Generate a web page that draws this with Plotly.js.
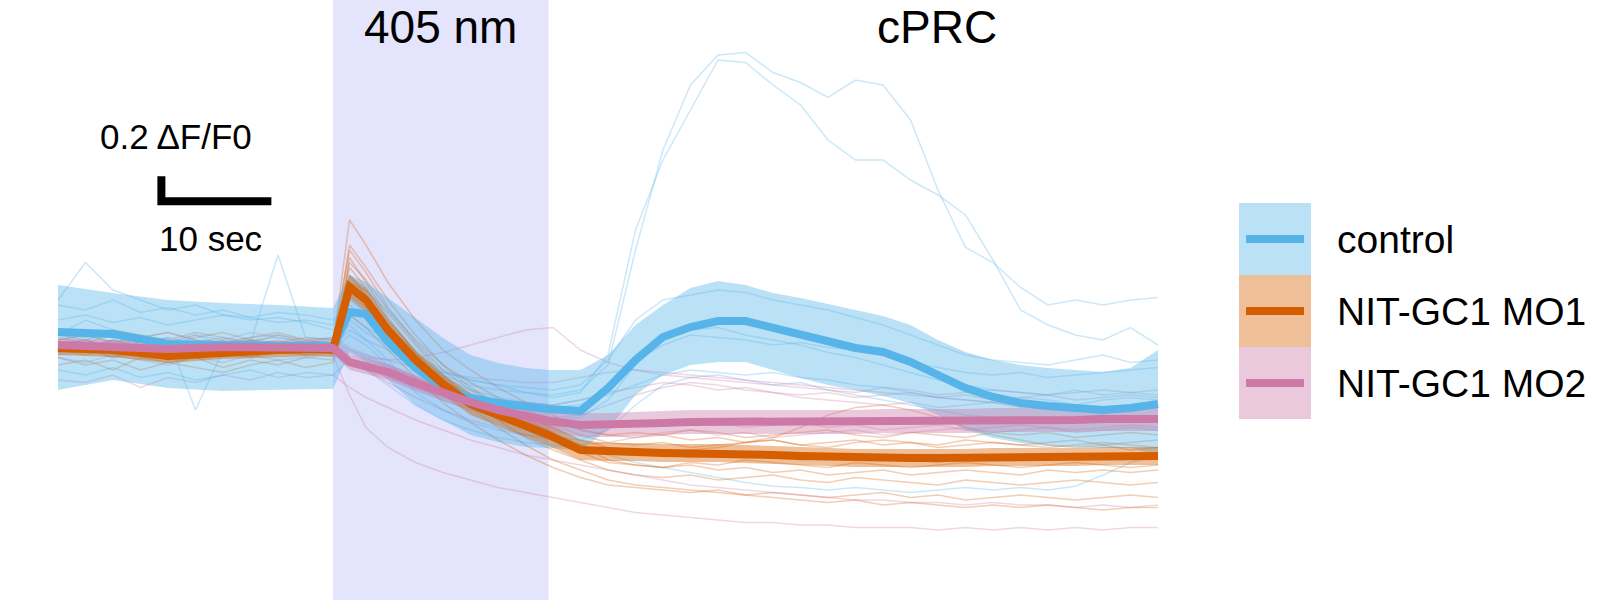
<!DOCTYPE html>
<html><head><meta charset="utf-8">
<script src="https://cdn.plot.ly/plotly-3.0.1.min.js"></script>
<style>html,body{margin:0;padding:0;background:#fff}</style>
</head><body><div id="chart" style="width:1600px;height:600px"></div>
<script>
// time (s) relative to 405 nm onset
const tMean = [-25,-20,-15,-10,-5,-1,0,1.5,3,5,7.5,10,12.5,15,17.5,19.6,22.5,25,27.5,30,32.5,35,37.5,40,42.5,45,47.5,50,52.5,55,57.5,60,62.5,65,67.5,70,72.5,75];
const tInd = [-25,-22.5,-20,-17.5,-15,-12.5,-10,-7.5,-5,-2.5,0,1.5,3,5,7.5,10,12.5,15,17.5,20,22.5,25,27.5,30,32.5,35,37.5,40,42.5,45,47.5,50,52.5,55,57.5,60,62.5,65,67.5,70,72.5,75];
const lightStart = 0, lightEnd = 19.6;

// means and SEM band edges (dF/F0)
const controlMean = [0.104,0.088,0.008,-0.008,-0.008,-0.008,-0.016,0.264,0.248,0.024,-0.184,-0.336,-0.424,-0.464,-0.496,-0.512,-0.528,-0.344,-0.12,0.064,0.144,0.192,0.192,0.136,0.072,0.016,-0.024,-0.056,-0.136,-0.24,-0.344,-0.416,-0.464,-0.488,-0.504,-0.52,-0.504,-0.472];
const controlHi = [0.48,0.416,0.36,0.336,0.32,0.296,0.296,0.56,0.504,0.376,0.216,0.056,-0.08,-0.144,-0.184,-0.2,-0.2,-0.08,0.16,0.32,0.456,0.512,0.48,0.416,0.376,0.328,0.28,0.232,0.16,0.04,-0.056,-0.12,-0.16,-0.184,-0.2,-0.216,-0.184,-0.04];
const controlLo = [-0.36,-0.28,-0.344,-0.368,-0.36,-0.352,-0.352,-0.056,-0.136,-0.28,-0.48,-0.6,-0.72,-0.776,-0.816,-0.824,-0.84,-0.68,-0.4,-0.24,-0.16,-0.136,-0.136,-0.2,-0.264,-0.32,-0.36,-0.408,-0.464,-0.56,-0.68,-0.744,-0.784,-0.808,-0.816,-0.824,-0.824,-0.88];

const mo1Mean = [-0.024,-0.04,-0.088,-0.056,-0.04,-0.032,-0.04,0.464,0.36,0.12,-0.12,-0.312,-0.472,-0.56,-0.648,-0.72,-0.84,-0.856,-0.856,-0.864,-0.864,-0.864,-0.872,-0.88,-0.888,-0.896,-0.904,-0.904,-0.904,-0.904,-0.904,-0.896,-0.896,-0.896,-0.896,-0.888,-0.888,-0.888];
const mo1Hi = [0.032,0.016,-0.032,0,0.016,0.024,0.016,0.56,0.456,0.208,-0.04,-0.232,-0.384,-0.472,-0.56,-0.632,-0.76,-0.784,-0.784,-0.792,-0.792,-0.792,-0.8,-0.808,-0.816,-0.824,-0.832,-0.832,-0.832,-0.832,-0.832,-0.824,-0.824,-0.824,-0.824,-0.816,-0.816,-0.816];
const mo1Lo = [-0.08,-0.096,-0.144,-0.112,-0.096,-0.088,-0.096,0.368,0.264,0.032,-0.208,-0.4,-0.56,-0.648,-0.736,-0.808,-0.92,-0.928,-0.928,-0.936,-0.936,-0.936,-0.944,-0.952,-0.96,-0.968,-0.976,-0.976,-0.976,-0.976,-0.976,-0.968,-0.968,-0.968,-0.968,-0.96,-0.96,-0.96];

const mo2Mean = [0,-0.008,-0.032,-0.016,-0.016,-0.016,-0.024,-0.136,-0.168,-0.216,-0.304,-0.384,-0.456,-0.52,-0.568,-0.608,-0.64,-0.64,-0.632,-0.624,-0.616,-0.616,-0.616,-0.616,-0.616,-0.616,-0.616,-0.608,-0.608,-0.608,-0.608,-0.6,-0.6,-0.6,-0.6,-0.592,-0.592,-0.592];
const mo2Hi = [0.048,0.04,0.016,0.032,0.032,0.032,0.024,-0.072,-0.104,-0.152,-0.24,-0.32,-0.392,-0.456,-0.496,-0.528,-0.544,-0.544,-0.536,-0.528,-0.52,-0.52,-0.52,-0.52,-0.52,-0.52,-0.52,-0.512,-0.512,-0.512,-0.512,-0.504,-0.504,-0.504,-0.504,-0.496,-0.496,-0.496];
const mo2Lo = [-0.048,-0.056,-0.08,-0.064,-0.064,-0.064,-0.072,-0.2,-0.232,-0.28,-0.368,-0.448,-0.52,-0.584,-0.64,-0.688,-0.736,-0.736,-0.728,-0.72,-0.712,-0.712,-0.712,-0.712,-0.712,-0.712,-0.712,-0.704,-0.704,-0.704,-0.704,-0.696,-0.696,-0.696,-0.696,-0.688,-0.688,-0.688];

// individual cells
const controlCells = [
 [0.08,0.2,0.12,0.06,0.02,0.08,0,0.04,0.06,0.02,0,0.12,0.04,-0.04,-0.16,-0.24,-0.32,-0.36,-0.38,-0.4,-0.36,-0.16,0.76,1.56,2.08,2.32,2.34,2.18,2.1,1.98,2.12,2.08,1.8,1.24,0.78,0.66,0.46,0.32,0.36,0.32,0.36,0.38],
 [0.36,0.66,0.44,0.36,0.28,0.32,0.24,0.2,0.22,0.18,0.12,0.24,0.14,0.04,-0.12,-0.22,-0.28,-0.32,-0.38,-0.42,-0.38,-0.08,0.92,1.48,1.88,2.28,2.26,2.08,1.92,1.64,1.48,1.48,1.32,1.2,1.04,0.68,0.28,0.16,0.08,0.04,0.14,0],
 [0.2,0.24,0.18,0.22,0.16,0.2,0.24,0.22,0.18,0.2,0.16,0.36,0.26,0.12,-0.08,-0.2,-0.28,-0.32,-0.34,-0.36,-0.32,-0.12,0.2,0.36,0.4,0.44,0.42,0.36,0.32,0.28,0.22,0.16,0.08,0,-0.08,-0.12,-0.14,-0.16,-0.12,-0.08,-0.14,-0.12],
 [-0.04,0,-0.08,-0.04,-0.12,-0.06,-0.02,-0.08,-0.04,-0.06,-0.04,0.08,0,-0.16,-0.32,-0.44,-0.52,-0.56,-0.58,-0.6,-0.58,-0.44,-0.16,0.04,0.12,0.14,0.08,0.04,0,-0.06,-0.1,-0.16,-0.22,-0.28,-0.32,-0.36,-0.38,-0.4,-0.36,-0.4,-0.38,-0.4],
 [-0.2,-0.24,-0.18,-0.26,-0.22,-0.28,-0.24,-0.2,-0.26,-0.22,-0.24,-0.12,-0.2,-0.32,-0.48,-0.6,-0.68,-0.74,-0.78,-0.8,-0.82,-0.88,-0.94,-0.98,-1.02,-1.06,-1.1,-1.13,-1.14,-1.16,-1.14,-1.16,-1.18,-1.16,-1.14,-1.16,-1.14,-1.16,-1.13,-1.04,-0.94,-0.88],
 [0.08,0.04,0.12,0,0.06,-0.52,-0.04,0.02,0.72,0.06,0.04,0.2,0.1,0,-0.2,-0.32,-0.4,-0.44,-0.46,-0.48,-0.44,-0.4,-0.32,-0.24,-0.2,-0.22,-0.24,-0.22,-0.26,-0.28,-0.32,-0.34,-0.38,-0.42,-0.44,-0.46,-0.42,-0.44,-0.48,-0.44,-0.42,-0.44],
 [0.32,0.28,0.36,0.26,0.3,0.24,0.28,0.22,0.26,0.24,0.2,0.32,0.22,0.08,-0.12,-0.26,-0.36,-0.42,-0.46,-0.5,-0.48,-0.36,-0.12,0,0.08,0.06,0.04,0,0.02,-0.02,-0.04,-0.08,-0.14,-0.18,-0.22,-0.24,-0.22,-0.26,-0.24,-0.22,-0.2,-0.18],
 [0,-0.06,0.04,-0.02,-0.08,0,-0.04,0.04,-0.06,-0.02,0,0.16,0.04,-0.12,-0.38,-0.52,-0.62,-0.68,-0.72,-0.74,-0.76,-0.68,-0.48,-0.32,-0.26,-0.24,-0.28,-0.32,-0.3,-0.36,-0.4,-0.44,-0.48,-0.52,-0.56,-0.58,-0.6,-0.62,-0.58,-0.56,-0.6,-0.58]
];
const mo1Cells = [
 [0.02,-0.02,0.04,-0.04,0,0.02,-0.06,0,0.04,-0.02,0,1.0,0.8,0.5,0.2,-0.04,-0.2,-0.34,-0.46,-0.56,-0.68,-0.72,-0.74,-0.72,-0.76,-0.74,-0.78,-0.76,-0.8,-0.78,-0.76,-0.8,-0.78,-0.82,-0.8,-0.78,-0.8,-0.82,-0.8,-0.78,-0.8,-0.82],
 [-0.06,-0.02,-0.1,-0.04,-0.08,-0.02,-0.06,-0.1,-0.04,-0.08,-0.06,0.8,0.62,0.36,0.08,-0.16,-0.34,-0.48,-0.6,-0.7,-0.8,-0.92,-0.96,-0.98,-0.96,-1.0,-0.98,-1.02,-1.0,-1.04,-1.02,-1.0,-1.04,-1.02,-1.0,-1.02,-1.04,-1.0,-1.02,-1.0,-1.02,-1.0],
 [-0.1,-0.16,-0.12,-0.2,-0.14,-0.1,-0.18,-0.12,-0.16,-0.1,-0.12,0.7,0.5,0.22,-0.06,-0.3,-0.5,-0.66,-0.8,-0.92,-1.0,-1.08,-1.12,-1.14,-1.16,-1.18,-1.2,-1.22,-1.24,-1.26,-1.24,-1.28,-1.26,-1.28,-1.3,-1.28,-1.3,-1.28,-1.3,-1.32,-1.3,-1.3],
 [0.04,0.08,0.02,0.06,0.1,0.04,0.02,0.06,0.1,0.04,0.02,0.56,0.4,0.16,-0.1,-0.3,-0.44,-0.56,-0.64,-0.72,-0.8,-0.86,-0.88,-0.86,-0.9,-0.88,-0.86,-0.9,-0.92,-0.9,-0.88,-0.9,-0.92,-0.94,-0.9,-0.92,-0.9,-0.88,-0.92,-0.9,-0.88,-0.9],
 [-0.02,0.02,-0.04,0,-0.06,-0.02,0.02,-0.04,0,-0.02,0,0.4,0.3,0.1,-0.12,-0.28,-0.4,-0.5,-0.58,-0.64,-0.72,-0.78,-0.8,-0.78,-0.82,-0.8,-0.78,-0.76,-0.8,-0.82,-0.78,-0.76,-0.78,-0.8,-0.76,-0.78,-0.8,-0.78,-0.76,-0.8,-0.78,-0.76],
 [0.06,0.02,0.08,0.04,0,0.06,0.1,0.04,0.02,0.06,0.04,0.76,0.58,0.3,0.02,-0.2,-0.36,-0.48,-0.58,-0.66,-0.76,-0.82,-0.84,-0.86,-0.84,-0.82,-0.78,-0.74,-0.66,-0.56,-0.5,-0.48,-0.52,-0.58,-0.66,-0.72,-0.76,-0.8,-0.82,-0.8,-0.84,-0.82],
 [-0.16,-0.12,-0.2,-0.1,-0.14,-0.18,-0.22,-0.16,-0.12,-0.18,-0.14,0.24,0.14,-0.04,-0.26,-0.46,-0.62,-0.76,-0.88,-0.98,-1.06,-1.12,-1.14,-1.16,-1.18,-1.16,-1.2,-1.18,-1.2,-1.22,-1.2,-1.18,-1.22,-1.2,-1.24,-1.22,-1.2,-1.22,-1.24,-1.22,-1.2,-1.22],
 [0,0.04,-0.02,0.06,0.02,-0.04,0,0.04,-0.02,0.02,0,0.62,0.46,0.2,-0.06,-0.26,-0.42,-0.56,-0.66,-0.76,-0.86,-0.94,-0.96,-0.98,-0.94,-0.96,-0.92,-0.94,-0.96,-0.98,-0.94,-0.96,-0.98,-0.96,-0.94,-0.96,-0.98,-0.96,-0.94,-0.96,-0.98,-0.96],
 [-0.04,-0.08,-0.02,-0.06,-0.1,-0.04,-0.08,-0.02,-0.06,-0.04,-0.02,0.66,0.52,0.28,0.04,-0.16,-0.3,-0.42,-0.52,-0.6,-0.68,-0.72,-0.7,-0.72,-0.68,-0.7,-0.74,-0.72,-0.7,-0.68,-0.72,-0.74,-0.7,-0.72,-0.74,-0.7,-0.72,-0.7,-0.74,-0.72,-0.7,-0.72],
 [0.1,0.06,0.12,0.08,0.04,0.1,0.06,0.02,0.08,0.04,0.06,0.5,0.44,0.26,0,-0.24,-0.44,-0.6,-0.74,-0.84,-0.92,-1.0,-1.04,-1.06,-1.04,-1.08,-1.06,-1.04,-1.08,-1.1,-1.06,-1.08,-1.1,-1.12,-1.08,-1.1,-1.12,-1.1,-1.08,-1.1,-1.12,-1.1]
];
const mo2Cells = [
 [0.02,-0.02,0.04,0,-0.04,0.02,0.06,0,-0.02,0.04,0,-0.06,-0.1,-0.12,-0.1,-0.06,0,0.06,0.12,0.14,-0.04,-0.14,-0.2,-0.24,-0.26,-0.28,-0.3,-0.32,-0.34,-0.36,-0.38,-0.34,-0.36,-0.4,-0.38,-0.36,-0.38,-0.4,-0.38,-0.36,-0.38,-0.36],
 [-0.08,-0.04,-0.1,-0.06,-0.12,-0.08,-0.04,-0.1,-0.06,-0.08,-0.06,-0.16,-0.2,-0.26,-0.34,-0.42,-0.48,-0.52,-0.56,-0.58,-0.56,-0.48,-0.4,-0.34,-0.3,-0.32,-0.36,-0.38,-0.42,-0.44,-0.46,-0.48,-0.46,-0.5,-0.48,-0.46,-0.5,-0.48,-0.5,-0.52,-0.48,-0.5],
 [0.04,0.08,0.02,0.06,0.1,0.04,0,0.06,0.08,0.02,0.04,-0.04,-0.1,-0.18,-0.26,-0.34,-0.4,-0.44,-0.46,-0.48,-0.44,-0.38,-0.34,-0.3,-0.32,-0.36,-0.34,-0.38,-0.4,-0.38,-0.42,-0.4,-0.38,-0.42,-0.4,-0.44,-0.42,-0.4,-0.44,-0.42,-0.4,-0.42],
 [-0.28,-0.3,-0.24,-0.34,-0.26,-0.3,-0.24,-0.28,-0.22,-0.26,-0.24,-0.34,-0.42,-0.5,-0.6,-0.68,-0.76,-0.82,-0.88,-0.92,-0.96,-1.0,-1.04,-1.08,-1.12,-1.14,-1.16,-1.18,-1.2,-1.22,-1.24,-1.24,-1.26,-1.26,-1.28,-1.26,-1.28,-1.28,-1.3,-1.28,-1.3,-1.28],
 [-0.1,-0.14,-0.08,-0.12,-0.16,-0.1,-0.14,-0.08,-0.12,-0.1,-0.08,-0.4,-0.66,-0.82,-0.94,-1.02,-1.08,-1.14,-1.18,-1.22,-1.26,-1.3,-1.34,-1.36,-1.38,-1.4,-1.42,-1.42,-1.44,-1.44,-1.46,-1.46,-1.46,-1.48,-1.46,-1.48,-1.46,-1.48,-1.46,-1.48,-1.46,-1.46],
 [0.08,0.04,0.1,0.06,0.02,0.08,0.04,0.1,0.06,0.02,0.06,-0.02,-0.08,-0.16,-0.26,-0.36,-0.44,-0.5,-0.54,-0.58,-0.62,-0.64,-0.62,-0.6,-0.64,-0.62,-0.66,-0.64,-0.62,-0.66,-0.64,-0.68,-0.66,-0.64,-0.68,-0.66,-0.64,-0.66,-0.68,-0.66,-0.64,-0.66],
 [-0.02,-0.06,0,-0.04,-0.08,-0.02,-0.06,-0.04,0,-0.04,-0.02,-0.12,-0.2,-0.3,-0.42,-0.52,-0.6,-0.66,-0.72,-0.76,-0.8,-0.78,-0.74,-0.7,-0.68,-0.72,-0.7,-0.74,-0.72,-0.7,-0.68,-0.72,-0.7,-0.68,-0.66,-0.7,-0.68,-0.66,-0.7,-0.68,-0.66,-0.68],
 [0,0.04,-0.02,0.02,0.06,0,0.04,-0.02,0.02,0,0.02,-0.04,-0.08,-0.12,-0.18,-0.22,-0.26,-0.28,-0.3,-0.3,-0.26,-0.22,-0.2,-0.22,-0.24,-0.26,-0.28,-0.3,-0.32,-0.34,-0.36,-0.38,-0.4,-0.42,-0.44,-0.46,-0.48,-0.5,-0.52,-0.5,-0.52,-0.5]
];

const groupNames = ['control', 'NIT-GC1 MO1', 'NIT-GC1 MO2'];
const groupColors = ['#56B4E9', '#D55E00', '#CC79A7'];
const cellColors = ['rgba(86,180,233,0.3)', 'rgba(213,94,0,0.3)', 'rgba(204,121,167,0.3)'];
const bandColors = ['rgba(86,180,233,0.4)', 'rgba(213,94,0,0.4)', 'rgba(204,121,167,0.4)'];

const groups = [
  {cells: controlCells, mean: controlMean, hi: controlHi, lo: controlLo},
  {cells: mo1Cells, mean: mo1Mean, hi: mo1Hi, lo: mo1Lo},
  {cells: mo2Cells, mean: mo2Mean, hi: mo2Hi, lo: mo2Lo}
];

const traces = [];
groups.forEach((g, i) => {
  g.cells.forEach(c => traces.push({x: tInd, y: c, type: 'scatter', mode: 'lines',
    line: {color: cellColors[i], width: 1.5}, hoverinfo: 'skip', showlegend: false}));
});
groups.forEach((g, i) => {
  traces.push({x: tMean.concat(tMean.slice().reverse()), y: g.hi.concat(g.lo.slice().reverse()),
    type: 'scatter', mode: 'lines', fill: 'toself', fillcolor: bandColors[i],
    line: {width: 0, color: 'rgba(0,0,0,0)'}, hoverinfo: 'skip', showlegend: false});
});
groups.forEach((g, i) => {
  traces.push({x: tMean, y: g.mean, type: 'scatter', mode: 'lines', name: groupNames[i],
    line: {color: groupColors[i], width: 8}, showlegend: false});
});

const fontFam = 'Liberation Sans, Arial, sans-serif';
const shapes = [
  {type: 'rect', xref: 'x', yref: 'paper', x0: lightStart, x1: lightEnd, y0: 0, y1: 1,
   fillcolor: 'rgb(228,228,252)', line: {width: 0}, layer: 'below'},
  // scale bar: 10 s and 0.2 dF/F0
  {type: 'path', xref: 'x', yref: 'y', path: 'M -15.6 1.35 L -15.6 1.15 L -5.6 1.15',
   line: {color: '#000', width: 8}}
];
const annotations = [
  {text: '405 nm', xref: 'x', yref: 'paper', x: (lightStart + lightEnd) / 2, y: 1 - 27/600, yanchor: 'middle', showarrow: false,
   font: {family: fontFam, size: 46, color: '#000'}},
  {text: 'cPRC', xref: 'x', yref: 'paper', x: 54.9, y: 1 - 27/600, yanchor: 'middle', showarrow: false,
   font: {family: fontFam, size: 46, color: '#000'}},
  {text: '0.2 ΔF/F0', xref: 'x', yref: 'paper', x: -14.3, y: 1 - 137/600, yanchor: 'middle', showarrow: false,
   font: {family: fontFam, size: 35, color: '#000'}},
  {text: '10 sec', xref: 'x', yref: 'paper', x: -11.1, y: 1 - 238/600, yanchor: 'middle', showarrow: false,
   font: {family: fontFam, size: 35, color: '#000'}}
];
// legend drawn as boxes
const legTop = [203, 275, 347];
groupNames.forEach((n, i) => {
  const y0 = 1 - (legTop[i] + 72) / 600, y1 = 1 - legTop[i] / 600, yc = (y0 + y1) / 2;
  shapes.push({type: 'rect', xref: 'paper', yref: 'paper', x0: 1239/1600, x1: 1311/1600, y0: y0, y1: y1,
    fillcolor: bandColors[i], line: {width: 0}});
  shapes.push({type: 'line', xref: 'paper', yref: 'paper', x0: 1246/1600, x1: 1304/1600, y0: yc, y1: yc,
    line: {color: groupColors[i], width: 8}});
  annotations.push({text: n, xref: 'paper', yref: 'paper', x: 1335/1600, y: yc, xanchor: 'left',
    yanchor: 'middle', showarrow: false, font: {family: fontFam, size: 39, color: '#000'}});
});

const layout = {
  width: 1600, height: 600, margin: {l: 0, r: 0, t: 0, b: 0},
  paper_bgcolor: '#fff', plot_bgcolor: '#fff', showlegend: false,
  xaxis: {range: [-30.27, 115.18], visible: false, fixedrange: true},
  yaxis: {range: [-2.04, 2.76], visible: false, fixedrange: true},
  shapes: shapes, annotations: annotations
};
Plotly.newPlot('chart', traces, layout, {displayModeBar: false, staticPlot: true});
</script></body></html>
